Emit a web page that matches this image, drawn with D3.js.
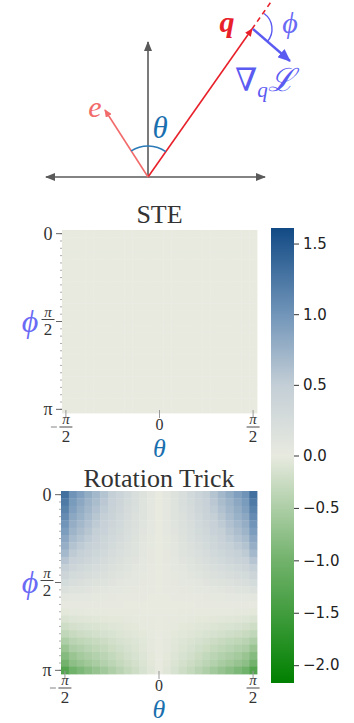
<!DOCTYPE html>
<html>
<head>
<meta charset="utf-8">
<script src="https://cdn.jsdelivr.net/npm/d3@7"></script>
<style>
  body { margin: 0; background: #fff; }
  svg { display: block; }
</style>
</head>
<body>
<div id="chart"></div>
<script>
// grid of theta (columns) and phi (rows), 25 x 25
var thetaTickIndex = [0, 12, 24];
var thetaTickLabels = [['-', 'π', '2'], ['', '0', ''], ['', 'π', '2']];
var phiTickIndex = [0, 12, 24];
var phiTickLabels = [['0'], ['π', '2'], ['π']];
var cbarTicks = [1.5, 1.0, 0.5, 0.0, -0.5, -1.0, -1.5, -2.0];
var cbarMin = -2.17, cbarMax = 1.61;

// STE: no change at all
var steRow = [0,0,0,0,0,0,0,0,0,0,0,0,0,0,0,0,0,0,0,0,0,0,0,0,0];
var steValues = [steRow,steRow,steRow,steRow,steRow,steRow,steRow,steRow,steRow,steRow,steRow,steRow,steRow,
                 steRow,steRow,steRow,steRow,steRow,steRow,steRow,steRow,steRow,steRow,steRow,steRow];

// rotation trick
var rotValues = [
  [1.30,1.01,0.90,0.79,0.69,0.59,0.48,0.39,0.30,0.22,0.14,0.07,0,0.07,0.14,0.22,0.30,0.39,0.48,0.59,0.69,0.79,0.90,1.01,1.30],
  [1.22,0.95,0.84,0.74,0.65,0.55,0.45,0.37,0.28,0.21,0.13,0.06,0,0.06,0.13,0.21,0.28,0.37,0.45,0.55,0.65,0.74,0.84,0.95,1.22],
  [1.15,0.90,0.79,0.70,0.61,0.52,0.43,0.35,0.26,0.20,0.13,0.06,0,0.06,0.13,0.20,0.26,0.35,0.43,0.52,0.61,0.70,0.79,0.90,1.15],
  [1.08,0.84,0.75,0.66,0.57,0.49,0.40,0.32,0.25,0.18,0.12,0.05,0,0.05,0.12,0.18,0.25,0.32,0.40,0.49,0.57,0.66,0.75,0.84,1.08],
  [1.00,0.78,0.69,0.61,0.53,0.45,0.37,0.30,0.23,0.17,0.11,0.05,0,0.05,0.11,0.17,0.23,0.30,0.37,0.45,0.53,0.61,0.69,0.78,1.00],
  [0.93,0.73,0.64,0.57,0.49,0.42,0.34,0.28,0.21,0.16,0.10,0.05,0,0.05,0.10,0.16,0.21,0.28,0.34,0.42,0.49,0.57,0.64,0.73,0.93],
  [0.85,0.66,0.59,0.52,0.45,0.38,0.31,0.26,0.20,0.14,0.09,0.04,0,0.04,0.09,0.14,0.20,0.26,0.31,0.38,0.45,0.52,0.59,0.66,0.85],
  [0.77,0.60,0.53,0.47,0.41,0.35,0.28,0.23,0.18,0.13,0.08,0.04,0,0.04,0.08,0.13,0.18,0.23,0.28,0.35,0.41,0.47,0.53,0.60,0.77],
  [0.68,0.53,0.47,0.41,0.36,0.31,0.25,0.20,0.16,0.12,0.07,0.03,0,0.03,0.07,0.12,0.16,0.20,0.25,0.31,0.36,0.41,0.47,0.53,0.68],
  [0.58,0.45,0.40,0.35,0.31,0.26,0.21,0.17,0.13,0.10,0.06,0.03,0,0.03,0.06,0.10,0.13,0.17,0.21,0.26,0.31,0.35,0.40,0.45,0.58],
  [0.48,0.37,0.33,0.29,0.25,0.22,0.18,0.14,0.11,0.08,0.05,0.02,0,0.02,0.05,0.08,0.11,0.14,0.18,0.22,0.25,0.29,0.33,0.37,0.48],
  [0.37,0.29,0.26,0.23,0.20,0.17,0.14,0.11,0.09,0.06,0.04,0.02,0,0.02,0.04,0.06,0.09,0.11,0.14,0.17,0.20,0.23,0.26,0.29,0.37],
  [0.27,0.21,0.19,0.16,0.14,0.12,0.10,0.08,0.06,0.05,0.03,0.01,0,0.01,0.03,0.05,0.06,0.08,0.10,0.12,0.14,0.16,0.19,0.21,0.27],
  [0.17,0.13,0.12,0.10,0.09,0.08,0.06,0.05,0.04,0.03,0.02,0.01,0,0.01,0.02,0.03,0.04,0.05,0.06,0.08,0.09,0.10,0.12,0.13,0.17],
  [0.08,0.06,0.06,0.05,0.04,0.04,0.03,0.02,0.02,0.01,0.01,0,0,0,0.01,0.01,0.02,0.02,0.03,0.04,0.04,0.05,0.06,0.06,0.08],
  [0.02,0.02,0.01,0.01,0.01,0.01,0.01,0.01,0,0,0,0,0,0,0,0,0,0.01,0.01,0.01,0.01,0.01,0.01,0.02,0.02],
  [-0.04,-0.03,-0.03,-0.02,-0.02,-0.02,-0.01,-0.01,-0.01,-0.01,0,0,0,0,0,-0.01,-0.01,-0.01,-0.01,-0.02,-0.02,-0.02,-0.03,-0.03,-0.04],
  [-0.12,-0.09,-0.08,-0.07,-0.06,-0.05,-0.04,-0.04,-0.03,-0.02,-0.01,-0.01,0,-0.01,-0.01,-0.02,-0.03,-0.04,-0.04,-0.05,-0.06,-0.07,-0.08,-0.09,-0.12],
  [-0.22,-0.17,-0.15,-0.13,-0.12,-0.10,-0.08,-0.07,-0.05,-0.04,-0.02,-0.01,0,-0.01,-0.02,-0.04,-0.05,-0.07,-0.08,-0.10,-0.12,-0.13,-0.15,-0.17,-0.22],
  [-0.34,-0.27,-0.23,-0.21,-0.18,-0.15,-0.13,-0.10,-0.08,-0.06,-0.04,-0.02,0,-0.02,-0.04,-0.06,-0.08,-0.10,-0.13,-0.15,-0.18,-0.21,-0.23,-0.27,-0.34],
  [-0.50,-0.39,-0.35,-0.31,-0.27,-0.23,-0.19,-0.15,-0.12,-0.09,-0.06,-0.03,0,-0.03,-0.06,-0.09,-0.12,-0.15,-0.19,-0.23,-0.27,-0.31,-0.35,-0.39,-0.50],
  [-0.66,-0.51,-0.46,-0.40,-0.35,-0.30,-0.24,-0.20,-0.15,-0.11,-0.07,-0.03,0,-0.03,-0.07,-0.11,-0.15,-0.20,-0.24,-0.30,-0.35,-0.40,-0.46,-0.51,-0.66],
  [-0.84,-0.66,-0.58,-0.51,-0.45,-0.38,-0.31,-0.25,-0.19,-0.14,-0.09,-0.04,0,-0.04,-0.09,-0.14,-0.19,-0.25,-0.31,-0.38,-0.45,-0.51,-0.58,-0.66,-0.84],
  [-1.00,-0.78,-0.69,-0.61,-0.53,-0.45,-0.37,-0.30,-0.23,-0.17,-0.11,-0.05,0,-0.05,-0.11,-0.17,-0.23,-0.30,-0.37,-0.45,-0.53,-0.61,-0.69,-0.78,-1.00],
  [-1.30,-1.01,-0.90,-0.79,-0.69,-0.59,-0.48,-0.39,-0.30,-0.22,-0.14,-0.07,0,-0.07,-0.14,-0.22,-0.30,-0.39,-0.48,-0.59,-0.69,-0.79,-0.90,-1.01,-1.30]
];

var cmapStops = [cbarMin, -1.0, 0, 0.5, 1.0, cbarMax];
var cmapColors = ['#008000', '#72b26c', '#e8eae0', '#c3ced6', '#7195b9', '#124a85'];
var color = d3.scaleLinear().domain(cmapStops).range(cmapColors).interpolate(d3.interpolateRgb).clamp(true);

var serif = "'Liberation Serif', 'DejaVu Serif', serif";
var svg = d3.select('#chart').append('svg').attr('width', 354).attr('height', 723);
var defs = svg.append('defs');

function marker(id, col, len, wid) {
  defs.append('marker').attr('id', id)
    .attr('viewBox', '0 0 ' + len + ' ' + wid)
    .attr('refX', len - 1).attr('refY', wid / 2)
    .attr('markerUnits', 'userSpaceOnUse')
    .attr('markerWidth', len).attr('markerHeight', wid)
    .attr('orient', 'auto-start-reverse')
    .append('path').attr('d', 'M0,0L' + len + ',' + wid / 2 + 'L0,' + wid + 'Z').attr('fill', col);
}
marker('ag', '#5a5a5a', 10, 8);
marker('ar', '#e8202a', 8, 7);
marker('ae', '#f26b6b', 8, 7);
marker('ab', '#5b5bf2', 13, 11);

// ---- diagram ----
var dia = svg.append('g');
var ox = 148, oy = 177;
dia.append('line').attr('x1', 46).attr('y1', oy).attr('x2', 265).attr('y2', oy)
   .attr('stroke', '#5a5a5a').attr('stroke-width', 1.6)
   .attr('marker-start', 'url(#ag)').attr('marker-end', 'url(#ag)');
dia.append('line').attr('x1', ox).attr('y1', oy).attr('x2', ox).attr('y2', 42)
   .attr('stroke', '#5a5a5a').attr('stroke-width', 1.6).attr('marker-end', 'url(#ag)');
// dashed extension of q
dia.append('line').attr('x1', 252).attr('y1', 29).attr('x2', 273).attr('y2', -1)
   .attr('stroke', '#e8202a').attr('stroke-width', 1.6).attr('stroke-dasharray', '5,4');
dia.append('line').attr('x1', ox).attr('y1', oy).attr('x2', 252).attr('y2', 29)
   .attr('stroke', '#e8202a').attr('stroke-width', 1.6).attr('marker-end', 'url(#ar)');
dia.append('line').attr('x1', ox).attr('y1', oy).attr('x2', 105).attr('y2', 110)
   .attr('stroke', '#f26b6b').attr('stroke-width', 1.6).attr('marker-end', 'url(#ae)');
// theta arc
dia.append('path').attr('transform', 'translate(' + ox + ',' + oy + ')')
   .attr('d', d3.arc()({innerRadius: 31, outerRadius: 31, startAngle: -0.57, endAngle: 0.61}))
   .attr('fill', 'none').attr('stroke', '#2a7ab8').attr('stroke-width', 1.5);
// gradient arrow
dia.append('line').attr('x1', 253).attr('y1', 29).attr('x2', 290).attr('y2', 61)
   .attr('stroke', '#5b5bf2').attr('stroke-width', 2.4).attr('marker-end', 'url(#ab)');
// phi arc
dia.append('path').attr('transform', 'translate(253,29)')
   .attr('d', d3.arc()({innerRadius: 19, outerRadius: 19, startAngle: 0.62, endAngle: 2.28}))
   .attr('fill', 'none').attr('stroke', '#5b5bf2').attr('stroke-width', 1.4);

dia.append('text').attr('x', 95).attr('y', 117).text('e')
   .attr('font-family', serif).attr('font-style', 'italic').attr('font-size', 30)
   .attr('fill', '#f26b6b').attr('text-anchor', 'middle');
dia.append('text').attr('x', 160).attr('y', 138).text('θ')
   .attr('font-family', serif).attr('font-style', 'italic').attr('font-size', 31)
   .attr('fill', '#1a6fae').attr('text-anchor', 'middle');
dia.append('text').attr('x', 227).attr('y', 32).text('q')
   .attr('font-family', serif).attr('font-style', 'italic').attr('font-weight', 'bold').attr('font-size', 30)
   .attr('fill', '#e8202a').attr('text-anchor', 'middle');
dia.append('text').attr('x', 290).attr('y', 33).text('ϕ')
   .attr('font-family', serif).attr('font-style', 'italic').attr('font-size', 30)
   .attr('fill', '#6a6af5').attr('text-anchor', 'middle');
var grad = dia.append('text').attr('x', 235).attr('y', 91)
   .attr('font-family', serif).attr('font-size', 32).attr('fill', '#5b5bf2');
grad.append('tspan').text('∇');
grad.append('tspan').text('q').attr('font-style', 'italic').attr('font-size', 21).attr('dy', 6);
grad.append('tspan').text('ℒ').attr('font-style', 'italic').attr('dy', -6).attr('font-size', 32);

// ---- heatmaps ----
function heatmap(title, values, left, top, w, h, titleSize, titleGap) {
  var g = svg.append('g');
  var x = d3.scaleBand().domain(d3.range(values[0].length)).range([left, left + w]);
  var y = d3.scaleBand().domain(d3.range(values.length)).range([top, top + h]);
  values.forEach(function(row, r) {
    g.selectAll(null).data(row).enter().append('rect')
     .attr('x', function(d, c) { return x(c); })
     .attr('y', y(r))
     .attr('width', x.bandwidth() + 0.4)
     .attr('height', y.bandwidth() + 0.4)
     .attr('fill', function(d) { return color(d); });
  });
  g.append('text').attr('x', left + w / 2).attr('y', top - titleGap).text(title)
   .attr('font-family', serif).attr('font-size', titleSize).attr('fill', '#333')
   .attr('text-anchor', 'middle');
  // minor y ticks on each row
  g.selectAll(null).data(d3.range(values.length)).enter().append('line')
   .attr('x1', left - 2).attr('x2', left)
   .attr('y1', function(d) { return y(d) + y.bandwidth() / 2; })
   .attr('y2', function(d) { return y(d) + y.bandwidth() / 2; })
   .attr('stroke', '#888').attr('stroke-width', 0.7);
  // y ticks
  phiTickIndex.forEach(function(i, k) {
    var ty = y(i) + y.bandwidth() / 2;
    g.append('line').attr('x1', left - 6).attr('x2', left).attr('y1', ty).attr('y2', ty)
     .attr('stroke', '#666').attr('stroke-width', 1);
    var lab = phiTickLabels[k];
    if (lab.length === 1) {
      g.append('text').attr('x', left - 14).attr('y', ty + 6).text(lab[0])
       .attr('font-family', serif).attr('font-size', 18).attr('fill', '#333').attr('text-anchor', 'middle');
    } else {
      frac(g, left - 14, ty - 2, lab[0], lab[1], '');
    }
  });
  // x ticks
  thetaTickIndex.forEach(function(i, k) {
    var tx = x(i) + x.bandwidth() / 2;
    g.append('line').attr('x1', tx).attr('x2', tx).attr('y1', top + h - 3).attr('y2', top + h + 5)
     .attr('stroke', '#999').attr('stroke-width', 1);
    var lab = thetaTickLabels[k];
    if (lab[2] === '') {
      g.append('text').attr('x', tx).attr('y', top + h + 17).text(lab[1])
       .attr('font-family', serif).attr('font-size', 16).attr('fill', '#333').attr('text-anchor', 'middle');
    } else {
      frac(g, tx, top + h + 14, lab[1], lab[2], lab[0]);
    }
  });
  g.append('text').attr('x', left + w / 2).attr('y', top + h + 44).text('θ')
   .attr('font-family', serif).attr('font-style', 'italic').attr('font-size', 26)
   .attr('fill', '#1a6fae').attr('text-anchor', 'middle');
  g.append('text').attr('x', 30).attr('y', top + h / 2 + 10).text('ϕ')
   .attr('font-family', serif).attr('font-style', 'italic').attr('font-size', 32)
   .attr('fill', '#6a6af5').attr('text-anchor', 'middle');
}

function frac(g, cx, ly, num, den, sign) {
  g.append('text').attr('x', cx).attr('y', ly - 3).text(num)
   .attr('font-family', serif).attr('font-style', 'italic').attr('font-size', 15).attr('fill', '#333').attr('text-anchor', 'middle');
  g.append('line').attr('x1', cx - 6.5).attr('x2', cx + 6.5).attr('y1', ly).attr('y2', ly)
   .attr('stroke', '#333').attr('stroke-width', 0.9);
  g.append('text').attr('x', cx).attr('y', ly + 15).text(den)
   .attr('font-family', serif).attr('font-size', 17).attr('fill', '#333').attr('text-anchor', 'middle');
  if (sign) {
    g.append('line').attr('x1', cx - 15).attr('x2', cx - 9).attr('y1', ly).attr('y2', ly)
     .attr('stroke', '#777').attr('stroke-width', 0.9);
  }
}

heatmap('STE', steValues, 62, 230, 195, 183, 26, 7);
heatmap('Rotation Trick', rotValues, 61, 491, 196, 183, 26, 4);

// ---- colour bar ----
var cb = svg.append('g');
var cbTop = 228, cbBot = 683, cbLeft = 271, cbW = 23;
var cy = d3.scaleLinear().domain([cbarMin, 0, cbarMax]).range([cbBot, 455.5, cbTop]);
var lg = defs.append('linearGradient').attr('id', 'cbg')
  .attr('x1', 0).attr('x2', 0).attr('y1', 1).attr('y2', 0);
cmapStops.forEach(function(v, i) {
  lg.append('stop').attr('offset', (cbBot - cy(v)) / (cbBot - cbTop)).attr('stop-color', cmapColors[i]);
});
cb.append('rect').attr('x', cbLeft).attr('y', cbTop).attr('width', cbW).attr('height', cbBot - cbTop)
  .attr('fill', 'url(#cbg)');
var cbAxis = d3.axisRight(cy).tickValues(cbarTicks).tickSize(5).tickPadding(4)
  .tickFormat(function(d) { return d3.format('.1f')(d).replace('-', '−'); });
cb.append('g').attr('transform', 'translate(' + (cbLeft + cbW) + ',0)').call(cbAxis)
  .call(function(a) {
    a.select('.domain').remove();
    a.selectAll('line').attr('stroke', '#333');
    a.selectAll('text').attr('font-family', "'DejaVu Sans', sans-serif").attr('font-size', 15).attr('fill', '#222');
  });
</script>
</body>
</html>
